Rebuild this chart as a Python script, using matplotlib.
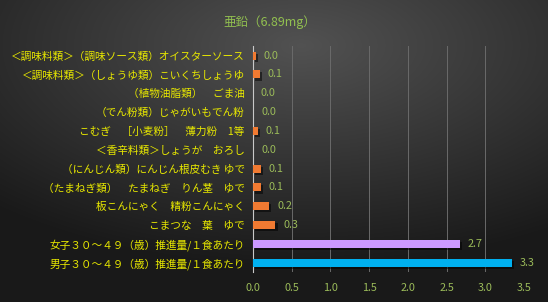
import numpy as np
import matplotlib
matplotlib.use("Agg")
import matplotlib.pyplot as plt
import matplotlib.patheffects as pe

plt.rcParams['font.family'] = ['Noto Sans CJK JP', 'DejaVu Sans']

# データ (上から順)
labels = [
    "＜調味料類＞（調味ソース類）オイスターソース",
    "＜調味料類＞（しょうゆ類）こいくちしょうゆ",
    "（植物油脂類）　ごま油",
    "（でん粉類）じゃがいもでん粉",
    "こむぎ　［小麦粉］　薄力粉　1等",
    "＜香辛料類＞しょうが　おろし",
    "（にんじん類）にんじん根皮むき ゆで",
    "（たまねぎ類）　たまねぎ　りん茎　ゆで",
    "板こんにゃく　精粉こんにゃく",
    "こまつな　葉　ゆで",
    "女子３０～４９（歳）推進量/１食あたり",
    "男子３０～４９（歳）推進量/１食あたり",
]
values = [0.04, 0.09, 0.0, 0.004, 0.06, 0.005, 0.1, 0.1, 0.21, 0.29, 2.67, 3.34]
value_text = ["0.0", "0.1", "0.0", "0.0", "0.1", "0.0", "0.1", "0.1", "0.2", "0.3", "2.7", "3.3"]
bar_colors = ["#f07a32"] * 10 + ["#cc99ff", "#00b0f0"]
title = "亜鉛（6.89mg）"
xticks = [0.0, 0.5, 1.0, 1.5, 2.0, 2.5, 3.0, 3.5]

fig = plt.figure(figsize=(5.48, 3.02), dpi=100)

# 背景グラデーション
bg = fig.add_axes([0, 0, 1, 1], zorder=-10)
gx, gy = np.meshgrid(np.linspace(0, 1, 548), np.linspace(0, 1, 302))
d = np.sqrt(((gx - 0.55) / 1.0) ** 2 + ((gy - 0.15) / 0.9) ** 2)
shade = np.clip(0.32 - 0.27 * d, 0.1, 0.33)
bg.imshow(np.dstack([shade, shade, shade]), aspect="auto", extent=[0, 1, 1, 0])
bg.axis("off")

ax = fig.add_axes([0.4617, 0.099, 0.4945, 0.748])
ax.set_facecolor("none")
ypos = np.arange(len(labels))
bars = ax.barh(ypos, values, height=0.43, color=bar_colors, zorder=3)
for b in bars:
    b.set_path_effects([pe.SimplePatchShadow(offset=(1.5, -1.5), shadow_rgbFace="#000000", alpha=0.5), pe.Normal()])

for y, v, t in zip(ypos, values, value_text):
    ax.text(v + 0.1, y, t, va="center", ha="left", color="#9bbb59", fontsize=7.8)

ax.set_xlim(0, 3.5)
ax.set_ylim(len(labels) - 0.5, -0.5)
ax.set_xticks(xticks)
ax.set_xticklabels([f"{x:.1f}" for x in xticks], color="#9bbb59", fontsize=7.8)
ax.set_yticks(ypos)
ax.set_yticklabels(labels, color="#e8e800", fontsize=7.7)
ax.tick_params(axis="both", length=0)
ax.tick_params(axis="x", pad=8)
ax.tick_params(axis="y", pad=6)
ax.grid(axis="x", color="#6a6a6a", linewidth=0.7, zorder=0)
for s in ["top", "right", "bottom"]:
    ax.spines[s].set_visible(False)
ax.spines["left"].set_color("#c8c8c8")
ax.spines["left"].set_linewidth(0.8)

fig.text(0.492, 0.928, title, ha="center", va="center", color="#92c050", fontsize=9)

fig.savefig("out.png", dpi=100)
